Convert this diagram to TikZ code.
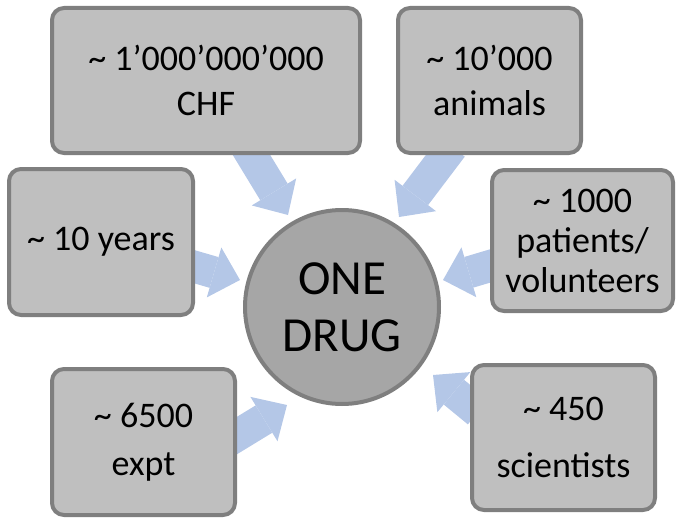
\documentclass[tikz,border=0pt]{standalone}
\usepackage{fontspec}
\setmainfont{Carlito}
\usetikzlibrary{arrows.meta}
\pgfdeclarelayer{bg}
\pgfsetlayers{bg,main}
\definecolor{boxfill}{HTML}{BFBFBF}
\definecolor{boxline}{HTML}{7F7F7F}
\definecolor{circfill}{HTML}{A6A6A6}
\definecolor{arrowblue}{HTML}{B4C7E7}
\tikzset{
  infobox/.style={draw=boxline, fill=boxfill, line width=4pt, rounded corners=12pt,
    inner sep=0pt, align=center, font=\fontsize{36}{45}\selectfont},
  hub/.style={circle, draw=boxline, fill=circfill, line width=4pt, minimum size=194pt,
    inner sep=0pt, align=center, font=\fontsize{49}{57}\selectfont},
  flow/.style={draw=arrowblue, line width=32pt,
    -{Triangle[length=27pt,width=52pt,line width=0pt,fill=arrowblue]}},
}
\begin{document}
\begin{tikzpicture}[x=1pt,y=-1pt]
\useasboundingbox (0,0) rectangle (683,519);
\node[infobox, minimum width=308pt, minimum height=145pt] (chf) at (206,80.5)
  {\textasciitilde\ 1’000’000’000\\CHF};
\node[infobox, minimum width=183pt, minimum height=145pt] (animals) at (489.5,80.5)
  {\textasciitilde\ 10’000\\animals};
\node[infobox, minimum width=181pt, minimum height=141pt,
  font=\fontsize{36}{40}\selectfont] (patients) at (582.5,240.5)
  {\textasciitilde\ 1000\\patients/\\volunteers};
\node[infobox, minimum width=184pt, minimum height=146pt] (years) at (101,242)
  {\textasciitilde\ 10 years};
\node[infobox, minimum width=183pt, minimum height=146pt,
  font=\fontsize{36}{48}\selectfont] (expt) at (143.5,442)
  {\textasciitilde\ 6500\\expt};
\node[infobox, minimum width=183pt, minimum height=145pt,
  font=\fontsize{36}{57}\selectfont] (sci) at (563.5,437.5)
  {\textasciitilde\ 450\\scientists};
\node[hub] (drug) at (342,307) {ONE\\DRUG};
% arrow ends
\coordinate (s1) at (246,146);  \coordinate (t1) at (288,215);
\coordinate (s2) at (452,147);  \coordinate (t2) at (399,217);
\coordinate (s3) at (500,263);  \coordinate (t3) at (443,280);
\coordinate (s4) at (185,264);  \coordinate (t4) at (240,280);
\coordinate (s5) at (228,441);  \coordinate (t5) at (287,405);
\coordinate (s6) at (478,412);  \coordinate (t6) at (433,375);
\begin{pgfonlayer}{bg}
\draw[flow] (s1) -- (t1);
\draw[flow] (s2) -- (t2);
\draw[flow] (s3) -- (t3);
\draw[flow] (s4) -- (t4);
\draw[flow] (s5) -- (t5);
\draw[flow] (s6) -- (t6);
\end{pgfonlayer}
\end{tikzpicture}
\end{document}
